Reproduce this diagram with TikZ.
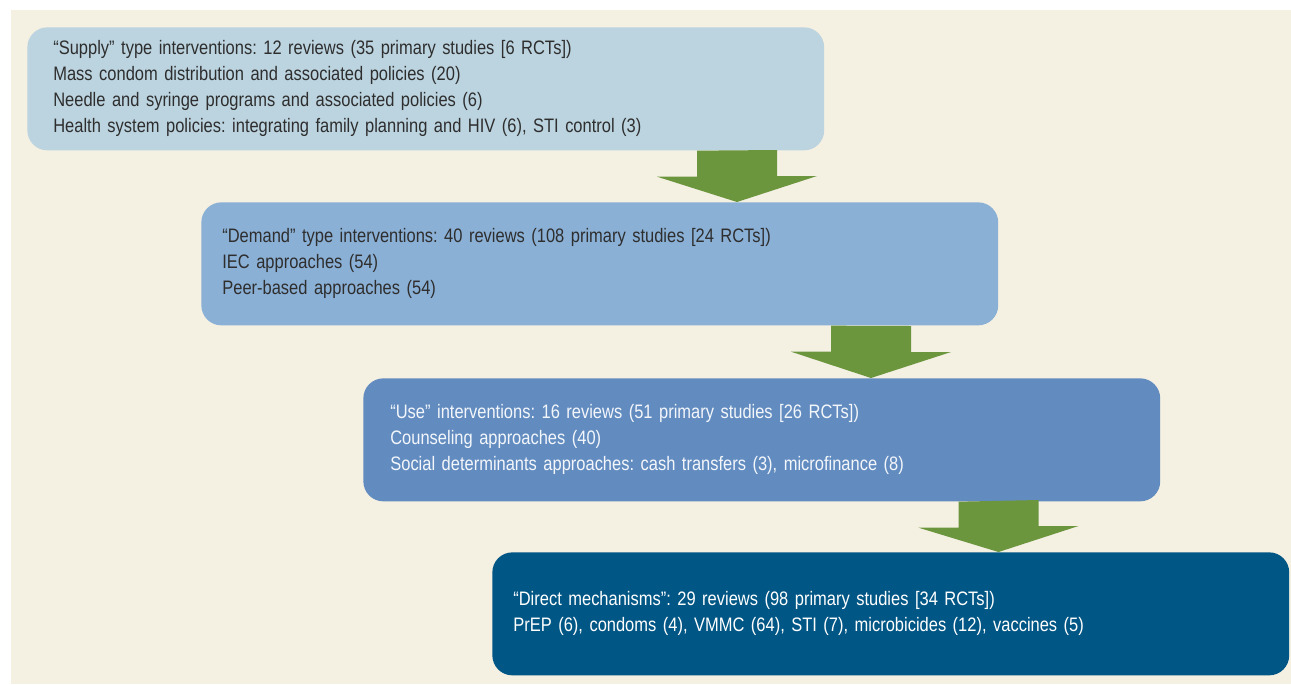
\documentclass[tikz,border=0pt]{standalone}
\usepackage{fontspec}
\setmainfont{Liberation Sans}[FakeStretch=0.845]
\usetikzlibrary{calc}
\usetikzlibrary{positioning}

\definecolor{cream}{HTML}{F4F0E2}
\definecolor{supplyblue}{HTML}{BCD4E0}
\definecolor{demandblue}{HTML}{8BB0D6}
\definecolor{useblue}{HTML}{628CC0}
\definecolor{directblue}{HTML}{005684}
\definecolor{arrowgreen}{HTML}{6B963E}
\definecolor{darktext}{HTML}{2E2E2E}

\tikzset{
    box/.style={rounded corners=0.4cm, minimum height=2.46cm, align=left,
        inner ysep=0pt, anchor=north west,
        font=\fontsize{11.1}{14.8}\selectfont\frenchspacing},
    bigarrow/.style={fill=arrowgreen}
}

\begin{document}
\begin{tikzpicture}[x=0.02cm,y=-0.02cm]
    \useasboundingbox (0,0) rectangle (1291,684);
    \fill[cream] (11,10) rectangle (1291,684);

    \node[box, fill=supplyblue, text=darktext, inner xsep=0.52cm, text width=14.9cm] (supply) at (27,27) {%
        “Supply” type interventions: 12 reviews (35 primary studies [6 RCTs])\\
        Mass condom distribution and associated policies (20)\\
        Needle and syringe programs and associated policies (6)\\
        Health system policies: integrating family planning and HIV (6), STI control (3)};
    \node[box, fill=demandblue, text=darktext, inner xsep=0.42cm, text width=15.1cm] (demand) at (201,202) {%
        “Demand” type interventions: 40 reviews (108 primary studies [24 RCTs])\\
        IEC approaches (54)\\
        Peer-based approaches (54)};
    \node[box, fill=useblue, text=white!92!useblue, inner xsep=0.54cm, text width=14.86cm] (use) at (363,378) {%
        “Use” interventions: 16 reviews (51 primary studies [26 RCTs])\\
        Counseling approaches (40)\\
        Social determinants approaches: cash transfers (3), microfinance (8)};
    \node[box, fill=directblue, text=white, inner xsep=0.42cm, text width=15.1cm] (direct) at (492,552) {%
        “Direct mechanisms”: 29 reviews (98 primary studies [34 RCTs])\\
        PrEP (6), condoms (4), VMMC (64), STI (7), microbicides (12), vaccines (5)};

    % block arrows between the boxes
    \coordinate (a1) at ($(supply.south west)+(710,0)$);
    \coordinate (a2) at ($(demand.south west)+(670,0)$);
    \coordinate (a3) at ($(use.south west)+(635.5,0)$);
    \fill[bigarrow] (a1) ++(-40,0) -- ++(0,26) -- ++(-40,0) -- (a1 |- demand.north) -- ++(80,-26) -- ++(-40,0) -- ++(0,-26) -- cycle;
    \fill[bigarrow] (a2) ++(-40,0) -- ++(0,26) -- ++(-40,0) -- (a2 |- use.north) -- ++(80,-26) -- ++(-40,0) -- ++(0,-26) -- cycle;
    \fill[bigarrow] (a3) ++(-40,0) -- ++(0,26) -- ++(-40,0) -- (a3 |- direct.north) -- ++(80,-26) -- ++(-40,0) -- ++(0,-26) -- cycle;
\end{tikzpicture}
\end{document}
